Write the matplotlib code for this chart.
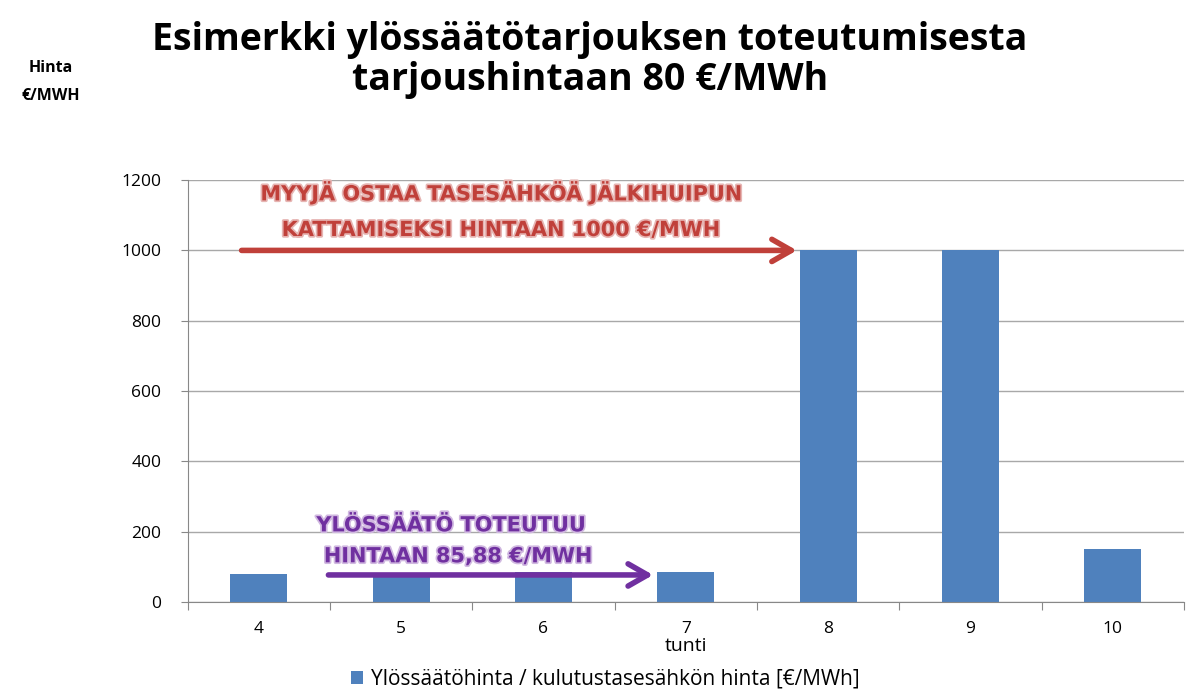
import numpy as np
import matplotlib
matplotlib.use("Agg")
import matplotlib.pyplot as plt
import matplotlib.patheffects as pe

# Data
hours = ['4', '5', '6', '7', '8', '9', '10']
prices = [80, 80, 85, 85.88, 1000, 1000, 150]
yticks = [0, 200, 400, 600, 800, 1000, 1200]

BAR_C = '#4F81BD'
RED = '#C0403A'
PURPLE = '#7030A0'

plt.rcParams['font.family'] = ['Open Sans', 'DejaVu Sans']

fig = plt.figure(figsize=(11.87, 6.9), dpi=100)
ax = fig.add_axes([0.158, 0.1275, 0.8395, 0.6115])

x = np.arange(len(hours))
ax.bar(x, prices, width=0.4, color=BAR_C, zorder=2,
       label='Ylössäätöhinta / kulutustasesähkön hinta [€/MWh]')

ax.set_xlim(-0.5, len(hours) - 0.5)
ax.set_ylim(0, 1200)
ax.set_yticks(yticks)
ax.set_yticklabels([str(v) for v in yticks], fontsize=12.5)
ax.yaxis.grid(True, color='#a8a8a8', linewidth=1, zorder=0)
ax.set_axisbelow(True)

# category ticks between bars, labels centred on bars
ax.set_xticks(np.arange(-0.5, len(hours)), minor=False)
ax.set_xticklabels([''] * (len(hours) + 1))
ax.set_xticks(x, minor=True)
ax.set_xticklabels(hours, minor=True, fontsize=12.5)
ax.tick_params(axis='x', which='minor', length=0, pad=14)
ax.tick_params(axis='x', which='major', length=6, color='#888888', direction='out')
ax.tick_params(axis='y', length=5, color='#888888', pad=14)

for s in ['top', 'right']:
    ax.spines[s].set_visible(False)
for s in ['left', 'bottom']:
    ax.spines[s].set_color('#888888')

ax.set_xlabel('tunti', fontsize=14, labelpad=0)

fig.text(0.497, 0.942, 'Esimerkki ylössäätötarjouksen toteutumisesta',
         ha='center', va='center', fontsize=27, fontweight='bold')
fig.text(0.497, 0.884, 'tarjoushintaan 80 €/MWh',
         ha='center', va='center', fontsize=27, fontweight='bold')
fig.text(0.043, 0.901, 'Hinta', ha='center', va='center', fontsize=11.5, fontweight='bold')
fig.text(0.043, 0.861, '€/MWH', ha='center', va='center', fontsize=11.5, fontweight='bold')

ann_font = dict(family='DejaVu Sans', fontweight='bold', fontsize=15, ha='center', va='center')

red_fx = [pe.withStroke(linewidth=2.5, foreground='#e6b5b3')]
ax.text(1.7, 1165, 'MYYJÄ OSTAA TASESÄHKÖÄ JÄLKIHUIPUN', color=RED,
        path_effects=red_fx, **ann_font)
ax.text(1.7, 1058, 'KATTAMISEKSI HINTAAN 1000 €/MWH', color=RED,
        path_effects=red_fx, **ann_font)
ax.annotate('', xy=(3.8, 1000), xytext=(-0.14, 1000),
            arrowprops=dict(arrowstyle='->,head_length=1.4,head_width=0.8', color=RED, lw=4),
            zorder=3)

pur_fx = [pe.withStroke(linewidth=2.5, foreground='#d0b8e0')]
ax.text(1.35, 218, 'YLÖSSÄÄTÖ TOTEUTUU', color=PURPLE,
        path_effects=pur_fx, **ann_font)
ax.text(1.4, 130, 'HINTAAN 85,88 €/MWH', color=PURPLE,
        path_effects=pur_fx, **ann_font)
ax.annotate('', xy=(2.79, 77), xytext=(0.47, 77),
            arrowprops=dict(arrowstyle='->,head_length=1.4,head_width=0.8', color=PURPLE, lw=4),
            zorder=3)

fig.legend(loc='center', bbox_to_anchor=(0.51, 0.016), frameon=False, fontsize=15,
           handlelength=0.6, handleheight=0.6, handletextpad=0.4)

fig.savefig('out.png', dpi=100)
